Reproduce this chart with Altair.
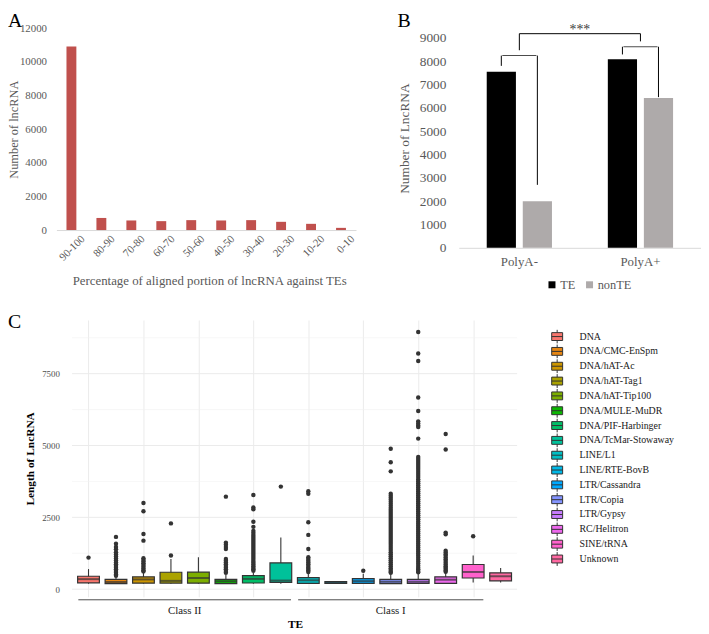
import altair as alt
import pandas as pd

SERIF = "Liberation Serif"
GREY_TXT = "#595959"

# ---------------- Panel A data ----------------
a_bins = ["90-100", "80-90", "70-80", "60-70", "50-60", "40-50", "30-40", "20-30", "10-20", "0-10"]
a_counts = [10920, 720, 570, 530, 590, 570, 590, 490, 370, 130]
a_ticks = [0, 2000, 4000, 6000, 8000, 10000, 12000]

# ---------------- Panel B data ----------------
b_groups = ["PolyA-", "PolyA+"]
b_series = ["TE", "nonTE"]
b_te = [7550, 8080]
b_nonte = [2000, 6420]
b_ticks = [0, 1000, 2000, 3000, 4000, 5000, 6000, 7000, 8000, 9000]
# significance brackets (in lncRNA-count units)
b_pair_top = [8240, 8620]
b_pair_te_end = [7800, 8290]
b_pair_non_end = [2700, 6460]
b_big_top = 9180
b_big_ends = [8470, 8850]
b_star_level = 9330

# ---------------- Panel C data ----------------
te_names = ["DNA", "DNA/CMC-EnSpm", "DNA/hAT-Ac", "DNA/hAT-Tag1", "DNA/hAT-Tip100",
            "DNA/MULE-MuDR", "DNA/PIF-Harbinger", "DNA/TcMar-Stowaway", "LINE/L1",
            "LINE/RTE-BovB", "LTR/Cassandra", "LTR/Copia", "LTR/Gypsy", "RC/Helitron",
            "SINE/tRNA", "Unknown"]
te_colors = ["#F8766D", "#E68613", "#CD9600", "#ABA300", "#7CAE00", "#0CB702", "#00BE67",
             "#00C19A", "#00BFC4", "#00B8E7", "#00A9FF", "#8494FF", "#C77CFF", "#ED68ED",
             "#FF61CC", "#FF68A1"]
c_low = [190, 180, 190, 190, 190, 180, 190, 190, 190, 200, 190, 180, 180, 190, 230, 230]
c_q1 = [220, 195, 210, 210, 210, 195, 215, 240, 205, 205, 205, 195, 205, 205, 390, 290]
c_med = [350, 250, 340, 290, 390, 275, 360, 300, 310, 230, 280, 260, 260, 330, 600, 450]
c_q3 = [450, 345, 430, 590, 595, 345, 470, 915, 400, 265, 365, 345, 345, 430, 860, 570]
c_high = [700, 420, 580, 1050, 1110, 500, 570, 1800, 530, 280, 540, 520, 540, 580, 1170, 740]
c_outliers = {
    "DNA": [1100],
    "DNA/CMC-EnSpm": [1820, 1580, 1470, 1390, 1290, 1210, 1140, 1070, 1000, 930, 870,
                      810, 750, 690, 630, 570, 510, 470],
    "DNA/hAT-Ac": [3000, 2710, 1920, 1690, 1080, 1020, 960, 900, 840, 780, 720, 660, 620],
    "DNA/hAT-Tag1": [2290, 1170],
    "DNA/hAT-Tip100": [],
    "DNA/MULE-MuDR": [3220, 1620, 1550, 1470, 1400, 1050, 990, 930, 870, 810, 750, 690,
                      630, 570],
    "DNA/PIF-Harbinger": [3280, 2840, 2780, 2350, 2170, 2030, 1960, 1890, 1820, 1750, 1680,
                          1610, 1540, 1470, 1400, 1330, 1260, 1190, 1120, 1050, 980, 920,
                          860, 800, 740, 690, 640],
    "DNA/TcMar-Stowaway": [3570],
    "LINE/L1": [3410, 3320, 2330, 1890, 1400, 1110, 1050, 990, 930, 870, 810, 750, 700,
                650, 600],
    "LINE/RTE-BovB": [],
    "LTR/Cassandra": [640],
    "LTR/Copia": [4890, 4420, 4100, 3320, 3250, 3180, 3110, 3040, 2970, 2900, 2830, 2760,
                  2690, 2620, 2550, 2480, 2410, 2340, 2270, 2200, 2130, 2060, 1990, 1920,
                  1850, 1780, 1710, 1640, 1570, 1500, 1430, 1360, 1290, 1220, 1150, 1080,
                  1010, 940, 870, 800, 730, 670, 610, 570],
    "LTR/Gypsy": [8950, 8200, 7940, 6670, 6200, 5840, 5770, 5700, 5640, 5240, 4600, 4530,
                  4460, 4390, 4320, 4250, 4180, 4110, 4040, 3970, 3900, 3830, 3760, 3690,
                  3620, 3550, 3480, 3410, 3340, 3270, 3200, 3130, 3060, 2990, 2920, 2850,
                  2780, 2710, 2640, 2570, 2500, 2430, 2360, 2290, 2220, 2150, 2080, 2010,
                  1940, 1870, 1800, 1730, 1660, 1590, 1520, 1450, 1380, 1310, 1240, 1170,
                  1100, 1030, 960, 890, 820, 750, 690, 630, 590],
    "RC/Helitron": [5400, 4860, 1970, 1910, 1340, 1280, 1220, 1160, 1100, 1040, 980, 920,
                    860, 800, 750, 700, 650, 610],
    "SINE/tRNA": [1840],
    "Unknown": [],
}
c_major = [0, 2500, 5000, 7500]
c_minor = [1250, 3750, 6250, 8750]
class_names = ["Class II", "Class I"]
class_first = ["DNA", "LINE/L1"]
class_last = ["DNA/TcMar-Stowaway", "SINE/tRNA"]


def letter(txt, dx, dy):
    return alt.Chart(pd.DataFrame({"t": [txt]})).mark_text(
        font=SERIF, fontSize=20, align="left", baseline="top", color="black"
    ).encode(text="t:N", x=alt.value(dx), y=alt.value(dy))


# =============== Panel A ===============
dfA = pd.DataFrame({"bin": a_bins, "count": a_counts})
barsA = alt.Chart(dfA).mark_bar(color="#C0504D").encode(
    x=alt.X("bin:N", sort=a_bins,
            scale=alt.Scale(domain=a_bins, paddingInner=0.67, paddingOuter=0.335),
            axis=alt.Axis(title="Percentage of aligned portion of lncRNA against TEs",
                          labelAngle=-45, labelAlign="right", labelBaseline="middle",
                          labelOffset=12, labelPadding=7, ticks=False, tickSize=0,
                          domainColor="#D9D9D9", domainWidth=1,
                          labelFont=SERIF, labelFontSize=11, labelColor=GREY_TXT,
                          titleFont=SERIF, titleFontSize=13, titleColor=GREY_TXT,
                          titleFontWeight="normal", titleBaseline="middle", titleY=51,
                          titleX=154.5)),
    y=alt.Y("count:Q", scale=alt.Scale(domain=[0, 12000], nice=False),
            axis=alt.Axis(values=a_ticks, format="d", labelOverlap=False,
                          title="Number of lncRNA", grid=False,
                          domain=False, ticks=False, tickSize=0, labelPadding=10,
                          labelFont=SERIF, labelFontSize=11, labelColor=GREY_TXT,
                          titleFont=SERIF, titleFontSize=12.5, titleColor=GREY_TXT,
                          titleFontWeight="normal", titleBaseline="middle", titleX=-43)),
)
panelA = alt.layer(barsA, letter("A", -49, -17)).properties(width=303, height=204)

# =============== Panel B ===============
dfB = pd.DataFrame({"group": b_groups * 2,
                    "series": ["TE"] * 2 + ["nonTE"] * 2,
                    "n": b_te + b_nonte})
axisXB = alt.Axis(title=None, labelAngle=0, ticks=False, tickSize=0,
                  domainColor="#D9D9D9", labelFont=SERIF, labelFontSize=13,
                  labelColor=GREY_TXT, labelPadding=8)
axisYB = alt.Axis(values=b_ticks, format="d", labelOverlap=False,
                  title="Number of LncRNA", grid=False, domain=False,
                  ticks=False, tickSize=0, labelPadding=13,
                  labelFont=SERIF, labelFontSize=13.5, labelColor=GREY_TXT,
                  titleFont=SERIF, titleFontSize=13.5, titleColor=GREY_TXT,
                  titleFontWeight="normal", titleBaseline="middle", titleX=-55)
scaleXB = alt.Scale(domain=b_groups, paddingInner=0, paddingOuter=0)
scaleYB = alt.Scale(domain=[0, 9407], nice=False)


def xB(field):
    return alt.X(field, sort=b_groups, scale=scaleXB, axis=axisXB)


def yB(field):
    return alt.Y(field, scale=scaleYB, axis=axisYB)


barsB = alt.Chart(dfB).mark_bar().encode(
    x=xB("group:N"),
    xOffset=alt.XOffset("series:N", sort=b_series,
                        scale=alt.Scale(domain=b_series, paddingInner=0.19,
                                        paddingOuter=0.775)),
    y=yB("n:Q"),
    color=alt.Color("series:N", sort=b_series,
                    scale=alt.Scale(domain=b_series, range=["#000000", "#AEAAAA"]),
                    legend=alt.Legend(title=None, orient="none", legendX=88, legendY=253,
                                      direction="horizontal", columns=2, symbolType="square",
                                      symbolSize=50, symbolStrokeWidth=0,
                                      labelFont=SERIF, labelFontSize=12.5,
                                      labelColor=GREY_TXT, labelOffset=2,
                                      columnPadding=8, padding=0)),
)
dfLegs = pd.DataFrame({"group": [b_groups[0], b_groups[0], b_groups[1], b_groups[1]],
                       "series": ["TE", "nonTE", "TE", "nonTE"],
                       "top": [b_pair_top[0], b_pair_top[0], b_pair_top[1], b_pair_top[1]],
                       "end": [b_pair_te_end[0], b_pair_non_end[0],
                               b_pair_te_end[1], b_pair_non_end[1]]})
legsB = alt.Chart(dfLegs).mark_rule(color="black", strokeWidth=1).encode(
    x=xB("group:N"),
    xOffset=alt.XOffset("series:N", sort=b_series),
    y=yB("top:Q"), y2="end:Q")
pairH = alt.Chart(pd.DataFrame({"group": b_groups, "top": b_pair_top})).mark_tick(
    orient="horizontal", size=34.5, thickness=1, color="black").encode(
    x=xB("group:N"), y=yB("top:Q"))
bigLegs = alt.Chart(pd.DataFrame({"group": b_groups, "top": [b_big_top] * 2,
                                  "end": b_big_ends})).mark_rule(
    color="black", strokeWidth=1).encode(x=xB("group:N"), y=yB("top:Q"), y2="end:Q")
bigH = alt.Chart(pd.DataFrame({"a": [b_groups[0]], "b": [b_groups[1]],
                               "top": [b_big_top]})).mark_rule(
    color="black", strokeWidth=1).encode(x=xB("a:N"), x2="b:N", y=yB("top:Q"))
starB = alt.Chart(pd.DataFrame({"t": ["***"], "lvl": [b_star_level]})).mark_text(
    font=SERIF, fontSize=14, color="#404040", baseline="middle").encode(
    text="t:N", x=alt.value(122.5), y=yB("lvl:Q"))
panelB = alt.layer(barsB, legsB, pairH, bigLegs, bigH, starB,
                   letter("B", -62, -17)).properties(width=245, height=222)

# =============== Panel C ===============
idx_of = {n: i + 1 for i, n in enumerate(te_names)}
dfBox = pd.DataFrame({"te": te_names, "idx": [idx_of[n] for n in te_names],
                      "lo": c_low, "q1": c_q1, "med": c_med, "q3": c_q3, "hi": c_high})
out_rows = [(n, idx_of[n], v) for n in te_names for v in c_outliers[n]]
dfOut = pd.DataFrame(out_rows, columns=["te", "idx", "val"])
dfClass = pd.DataFrame({"cls": class_names,
                        "x0": [idx_of[n] - 0.37 for n in class_first],
                        "x1": [idx_of[n] + 0.37 for n in class_last]})
dfClass["xm"] = (dfClass["x0"] + dfClass["x1"]) / 2

# ggplot panel spans 0.4 .. 16.6; the scale starts a little earlier so that the
# panel lines up under panel A's plot edge while keeping room for the y labels.
PANEL_LO, PANEL_HI = 0.4, 16.6
xScaleC = alt.Scale(domain=[PANEL_LO - 0.3873, PANEL_HI], nice=False, zero=False)
xAxisC = alt.Axis(values=list(range(1, 17)), labels=False, ticks=False, tickSize=0,
                  domain=False, grid=True, gridColor="#EBEBEB", gridWidth=1,
                  title="TE", titleFont=SERIF, titleFontSize=11.5, titleFontWeight="bold",
                  titleColor="black", titlePadding=22, titleX=241.3)
yScaleC = alt.Scale(domain=[-265, 9367], nice=False, zero=False)
yAxisC = alt.Axis(values=c_major, format="d", labelOverlap=False,
                  title="Length of LncRNA", grid=False, domain=False, ticks=False,
                  tickSize=0, labelPadding=-3,
                  labelFont=SERIF, labelFontSize=9, labelColor="#4D4D4D",
                  titleFont=SERIF, titleFontSize=11.5, titleFontWeight="bold",
                  titleColor="black", titleBaseline="middle", titleX=-26.5)


def xC(field):
    return alt.X(field, scale=xScaleC, axis=xAxisC)


def yC(field):
    return alt.Y(field, scale=yScaleC, axis=yAxisC)


minorC = alt.Chart(pd.DataFrame({"g": c_minor})).mark_rule(
    color="#F2F2F2", strokeWidth=0.6).encode(
    x=alt.datum(PANEL_LO), x2=alt.datum(PANEL_HI), y=yC("g:Q"))
majorC = alt.Chart(pd.DataFrame({"g": c_major})).mark_rule(
    color="#EBEBEB", strokeWidth=1).encode(
    x=alt.datum(PANEL_LO), x2=alt.datum(PANEL_HI), y=yC("g:Q"))
whiskC = alt.Chart(dfBox).mark_rule(color="#333333", strokeWidth=1.1).encode(
    x=xC("idx:Q"), y=yC("lo:Q"), y2="hi:Q")
BOX_PATH = ("M-0.79,-0.57H0.79V0.57H-0.79Z M0,-0.57V-1 M0,0.57V1 M-0.79,0H0.79")
boxC = alt.Chart(dfBox).mark_bar(size=22, stroke="#333333", strokeWidth=1.2).encode(
    x=xC("idx:Q"), y=yC("q1:Q"), y2="q3:Q",
    color=alt.Color("te:N", sort=te_names,
                    scale=alt.Scale(domain=te_names, range=te_colors),
                    legend=alt.Legend(title=None, orient="none", legendX=499, legendY=9.5,
                                      symbolType=BOX_PATH, symbolSize=196,
                                      symbolStrokeColor="#333333", symbolStrokeWidth=1,
                                      symbolOpacity=1, clipHeight=14.5,
                                      labelFont=SERIF, labelFontSize=10,
                                      labelColor="#1A1A1A", labelOffset=15.1,
                                      rowPadding=0, padding=0)))
medC = alt.Chart(dfBox).mark_tick(orient="horizontal", size=22, thickness=2,
                                   color="#333333").encode(x=xC("idx:Q"), y=yC("med:Q"))
outC = alt.Chart(dfOut).mark_circle(size=20, color="#333333", opacity=1).encode(
    x=xC("idx:Q"), y=yC("val:Q"))
classLine = alt.Chart(dfClass).mark_rule(color="#4D4D4D", strokeWidth=1).encode(
    x=xC("x0:Q"), x2="x1:Q", y=alt.value(283))
classText = alt.Chart(dfClass).mark_text(font=SERIF, fontSize=11, color="#1A1A1A",
                                         baseline="middle").encode(
    x=xC("xm:Q"), y=alt.value(294), text="cls:N")
panelC = alt.layer(minorC, majorC, whiskC, boxC, medC, outC, classLine, classText,
                   letter("C", -49, -8)).properties(width=471, height=280)

topRow = alt.hconcat(panelA, panelB, spacing=104, bounds="flush").resolve_scale(
    color="independent")
chart = alt.concat(topRow, panelC, columns=1, align="none", spacing=21).resolve_scale(
    color="independent").properties(padding=0).configure_view(stroke=None)

chart.save("out.html", embed_options={"renderer": "svg", "actions": False})
